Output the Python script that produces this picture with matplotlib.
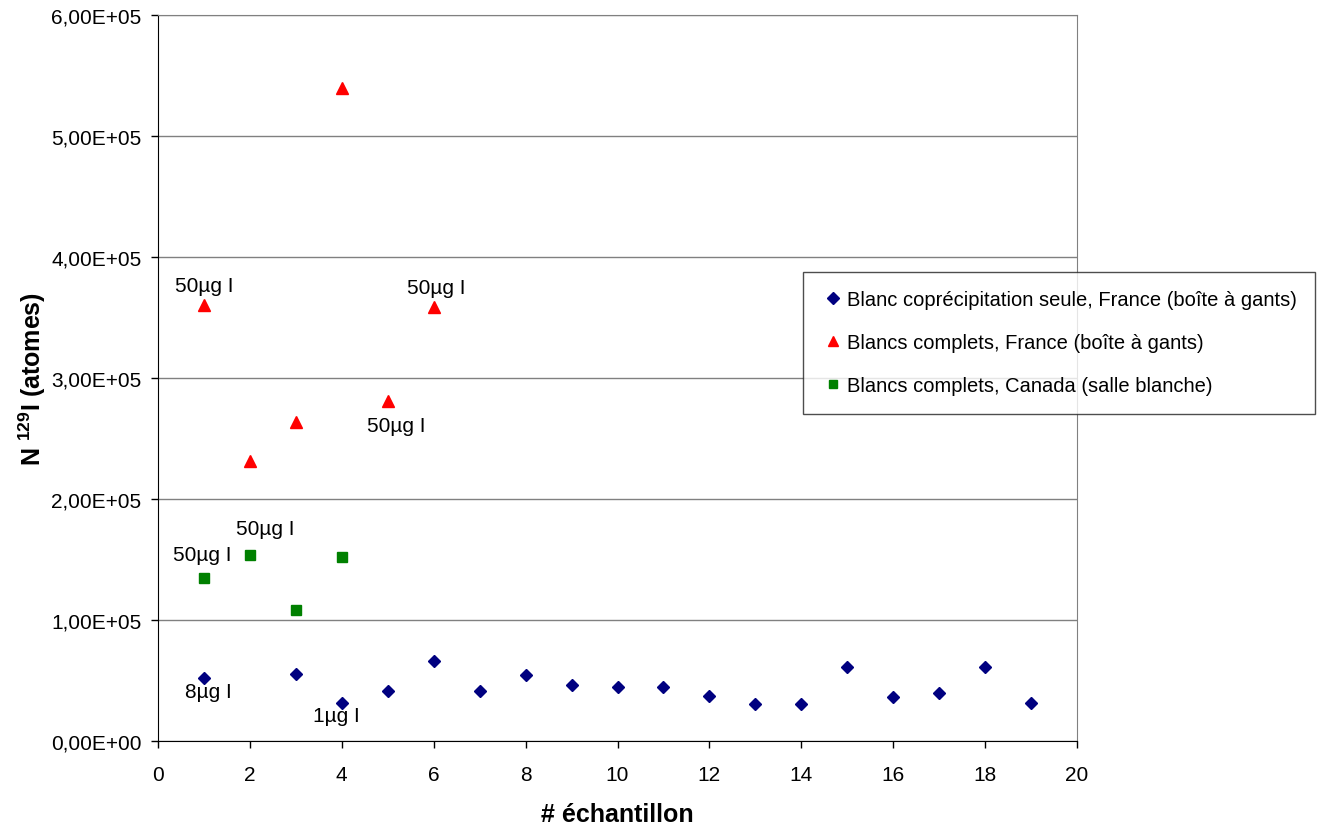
import matplotlib.pyplot as plt
from matplotlib.ticker import FuncFormatter, MultipleLocator

plt.rcParams['font.family'] = ['Liberation Sans', 'DejaVu Sans']
plt.rcParams['mathtext.fontset'] = 'custom'
plt.rcParams['mathtext.bf'] = 'Liberation Sans:bold'
plt.rcParams['mathtext.rm'] = 'Liberation Sans'

# Blanc coprécipitation seule, France
x_copr = [1, 3, 4, 5, 6, 7, 8, 9, 10, 11, 12, 13, 14, 15, 16, 17, 18, 19]
y_copr = [52000, 55500, 31000, 41500, 66000, 41000, 54500, 46500, 45000, 45000,
          37000, 30500, 30500, 61000, 36000, 39500, 61000, 31500]

# Blancs complets, France
x_fr = [1, 2, 3, 4, 5, 6]
y_fr = [360000, 231000, 264000, 540000, 281000, 359000]

# Blancs complets, Canada
x_ca = [1, 2, 3, 4]
y_ca = [135000, 154000, 108000, 152000]

labels = ["Blanc coprécipitation seule, France (boîte à gants)",
          "Blancs complets, France (boîte à gants)",
          "Blancs complets, Canada (salle blanche)"]

fig = plt.figure(figsize=(13.44, 8.28), dpi=100)
ax = fig.add_axes([158/1344, 1-742/828, 919/1344, 726/828])

h1, = ax.plot(x_copr, y_copr, 'D', color='#000080', ms=6.3, ls='none')
h2, = ax.plot(x_fr, y_fr, '^', color='#ff0000', ms=8.5, ls='none')
h3, = ax.plot(x_ca, y_ca, 's', color='#008000', ms=7, ls='none')

ax.set_xlim(0, 20)
ax.set_ylim(0, 600000)
ax.xaxis.set_major_locator(MultipleLocator(2))
ax.yaxis.set_major_locator(MultipleLocator(100000))
ax.yaxis.set_major_formatter(FuncFormatter(lambda v, p: f"{v:.2E}".replace('.', ',')))
ax.tick_params(direction='out', length=5, width=1, labelsize=15, colors='black')
ax.tick_params(axis='x', pad=12)
ax.tick_params(axis='y', pad=7)
ax.grid(axis='y', color='#808080', lw=1)
ax.set_axisbelow(True)
for s in ['top', 'right']:
    ax.spines[s].set_color('#808080')
for s in ['left', 'bottom']:
    ax.spines[s].set_color('black')

ax.set_xlabel('# échantillon', fontsize=18, fontweight='bold', labelpad=13)
ax.set_ylabel(r'N $^{\mathbf{129}}$I (atomes)', fontsize=18, fontweight='bold', labelpad=2)

# notes (dx, dy in points)
notes = [
    ("50µg I", x_fr[0], y_fr[0], 0, 14),
    ("50µg I", x_fr[5], y_fr[5], 2, 14),
    ("50µg I", x_fr[4], y_fr[4], 6, -18),
    ("50µg I", x_ca[0], y_ca[0], -1, 17),
    ("50µg I", x_ca[1], y_ca[1], 11, 19),
    ("8µg I", x_copr[0], y_copr[0], 3, -10),
    ("1µg I", x_copr[2], y_copr[2], -4, -9),
]
for t, x, y, dx, dy in notes:
    ax.annotate(t, (x, y), xytext=(dx, dy), textcoords='offset points',
                ha='center', va='center', fontsize=15)

leg = fig.legend([h1, h2, h3], labels, loc='upper left',
                 bbox_to_anchor=(803/1344, 1-273/828), fontsize=14.5,
                 frameon=True, fancybox=False, labelspacing=1.2,
                 handlelength=1.2, handletextpad=0.1, borderpad=0.9,
                 borderaxespad=0, markerscale=0.9)
leg.get_frame().set_edgecolor('#202020')
leg.get_frame().set_linewidth(1)

fig.savefig('out.png', dpi=100)
